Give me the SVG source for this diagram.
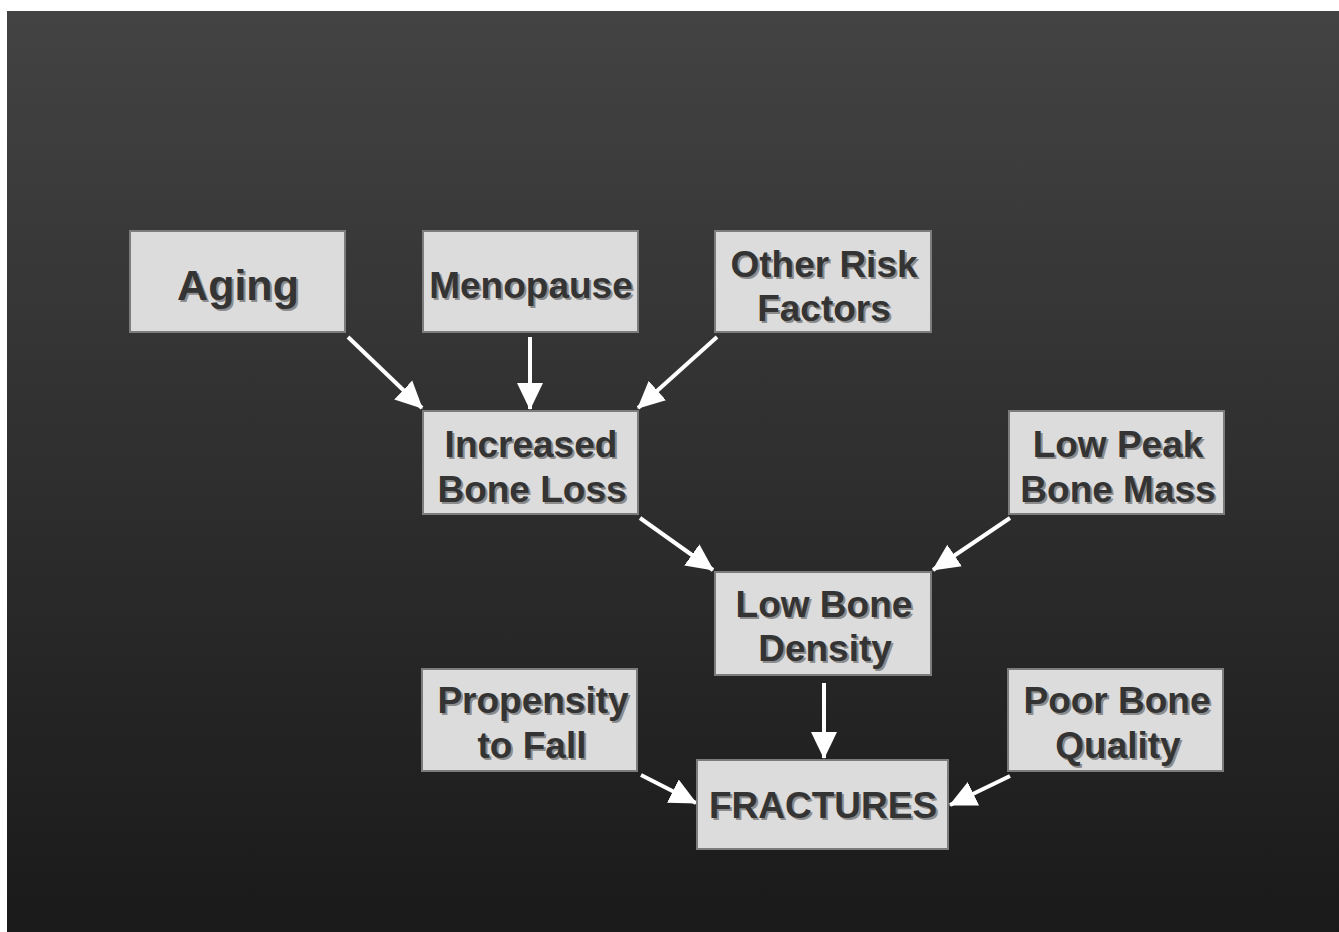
<svg xmlns="http://www.w3.org/2000/svg" width="1339" height="932" viewBox="0 0 1339 932">
<defs>
<linearGradient id="bg" x1="0" y1="0" x2="0" y2="1">
<stop offset="0" stop-color="#434343"/>
<stop offset="1" stop-color="#1a1a1a"/>
</linearGradient>
<marker id="ah" markerUnits="userSpaceOnUse" markerWidth="28" markerHeight="28" viewBox="0 0 28 28" refX="26" refY="14" orient="auto">
<path d="M0,1 L27,14 L0,27 Z" fill="#ffffff"/>
</marker>
</defs>
<style>
.box{fill:#dcdcdc;stroke:#7c7c7c;stroke-width:2}
.t{font-family:"Liberation Sans",Arial,sans-serif;font-weight:bold;font-size:37px;text-anchor:middle}
.big{font-size:43px}
.sh{fill:#8c8c8c}
.fg{fill:#343434}
.c{stroke:#ffffff;stroke-width:4;fill:none;marker-end:url(#ah)}
</style>
<rect x="0" y="0" width="1339" height="932" fill="#ffffff"/>
<rect x="7" y="11" width="1332" height="921" fill="url(#bg)"/>
<g id="connectors">
<line class="c" x1="348" y1="337" x2="422" y2="408"/>
<line class="c" x1="530" y1="337" x2="530" y2="409"/>
<line class="c" x1="717" y1="337" x2="638" y2="408"/>
<line class="c" x1="640" y1="518" x2="713" y2="570"/>
<line class="c" x1="1010" y1="518" x2="933" y2="570"/>
<line class="c" x1="824" y1="683" x2="824" y2="758"/>
<line class="c" x1="641" y1="775" x2="696" y2="803"/>
<line class="c" x1="1010" y1="776" x2="950" y2="805"/>
</g>
<g id="aging">
<rect class="box" x="130" y="231" width="215" height="101"/>
<text class="t big sh" x="240" y="302">Aging</text>
<text class="t big fg" x="238" y="300">Aging</text>
</g>
<g id="menopause">
<rect class="box" x="423" y="231" width="215" height="101"/>
<text class="t sh" x="533" y="300">Menopause</text>
<text class="t fg" x="531" y="298">Menopause</text>
</g>
<g id="other">
<rect class="box" x="715" y="231" width="216" height="101"/>
<text class="t sh" x="826" y="279">Other Risk</text>
<text class="t fg" x="824" y="277">Other Risk</text>
<text class="t sh" x="826" y="323">Factors</text>
<text class="t fg" x="824" y="321">Factors</text>
</g>
<g id="increased">
<rect class="box" x="423" y="411" width="215" height="103"/>
<text class="t sh" x="533" y="459">Increased</text>
<text class="t fg" x="531" y="457">Increased</text>
<text class="t sh" x="534" y="504">Bone Loss</text>
<text class="t fg" x="532" y="502">Bone Loss</text>
</g>
<g id="lowpeak">
<rect class="box" x="1009" y="411" width="215" height="103"/>
<text class="t sh" x="1120" y="459">Low Peak</text>
<text class="t fg" x="1118" y="457">Low Peak</text>
<text class="t sh" x="1120" y="504">Bone Mass</text>
<text class="t fg" x="1118" y="502">Bone Mass</text>
</g>
<g id="density">
<rect class="box" x="715" y="572" width="216" height="103"/>
<text class="t sh" x="826" y="619">Low Bone</text>
<text class="t fg" x="824" y="617">Low Bone</text>
<text class="t sh" x="827" y="663">Density</text>
<text class="t fg" x="825" y="661">Density</text>
</g>
<g id="propensity">
<rect class="box" x="422" y="669" width="215" height="102"/>
<text class="t sh" x="535" y="715">Propensity</text>
<text class="t fg" x="533" y="713">Propensity</text>
<text class="t sh" x="534" y="760">to Fall</text>
<text class="t fg" x="532" y="758">to Fall</text>
</g>
<g id="poor">
<rect class="box" x="1008" y="669" width="215" height="102"/>
<text class="t sh" x="1119" y="715">Poor Bone</text>
<text class="t fg" x="1117" y="713">Poor Bone</text>
<text class="t sh" x="1120" y="760">Quality</text>
<text class="t fg" x="1118" y="758">Quality</text>
</g>
<g id="fractures">
<rect class="box" x="697" y="760" width="251" height="89"/>
<text class="t sh" x="825" y="820">FRACTURES</text>
<text class="t fg" x="823" y="818">FRACTURES</text>
</g>
</svg>
